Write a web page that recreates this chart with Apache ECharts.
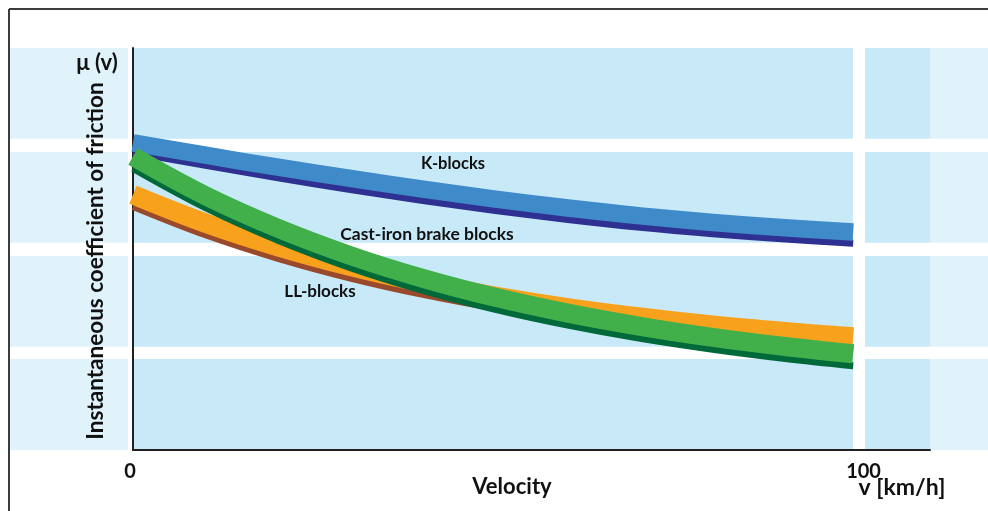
<!DOCTYPE html>
<html>
<head>
<meta charset="utf-8">
<script src="https://cdn.jsdelivr.net/npm/echarts@6/dist/echarts.min.js"></script>
<style>
  html, body { margin: 0; padding: 0; background: #ffffff; }
  #chart { width: 988px; height: 511px; }
</style>
</head>
<body>
<div id="chart"></div>
<script>
// ---- data ----
const velocity = [0, 10, 20, 30, 40, 50, 60, 70, 80, 90, 99.4];
const xTickLabels = [0, 100];

// K-blocks: light band and dark lower edge
const kBlocksBand = [0.3057, 0.2933, 0.2814, 0.2702, 0.2596, 0.2497, 0.2408, 0.2330, 0.2264, 0.2211, 0.2169];
const kBlocksEdge = [0.2960, 0.2833, 0.2709, 0.2592, 0.2483, 0.2383, 0.2294, 0.2216, 0.2152, 0.2099, 0.2058];

// Cast-iron brake blocks
const castIronBand = [0.2920, 0.2530, 0.2206, 0.1934, 0.1708, 0.1519, 0.1362, 0.1231, 0.1121, 0.1030, 0.0957];
const castIronEdge = [0.2801, 0.2411, 0.2087, 0.1815, 0.1589, 0.1400, 0.1243, 0.1111, 0.1002, 0.0910, 0.0838];

// LL-blocks
const llBlocksBand = [0.2540, 0.2258, 0.2024, 0.1828, 0.1665, 0.1529, 0.1415, 0.1321, 0.1241, 0.1176, 0.1124];
const llBlocksEdge = [0.2423, 0.2141, 0.1907, 0.1711, 0.1548, 0.1412, 0.1299, 0.1204, 0.1124, 0.1059, 0.1007];

const seriesLabels = ['K-blocks', 'Cast-iron brake blocks', 'LL-blocks'];

// ---- chart ----
const FONT = 'Lato, "Open Sans", sans-serif';
const pairs = (ys) => velocity.map((v, i) => [v, ys[i]]);

function lineSeries(name, ys, color, width) {
  return {
    type: 'line', name: name, data: pairs(ys), smooth: 0.35,
    symbol: 'none', silent: true,
    lineStyle: { color: color, width: width, cap: 'butt', join: 'round' }
  };
}

const tileYs = [[48, 138.7], [152, 242.7], [256, 346.7], [359, 450]];
const bgEls = [];
tileYs.forEach(([y0, y1]) => {
  bgEls.push({ type: 'rect', shape: { x: 10, y: y0, width: 118, height: y1 - y0 }, style: { fill: '#e0f2fa' }, z: -10 });
  bgEls.push({ type: 'rect', shape: { x: 133, y: y0, width: 720, height: y1 - y0 }, style: { fill: '#c7e9f8' }, z: -10 });
  bgEls.push({ type: 'rect', shape: { x: 865, y: y0, width: 65, height: y1 - y0 }, style: { fill: '#c7e9f8' }, z: -10 });
  bgEls.push({ type: 'rect', shape: { x: 930, y: y0, width: 58, height: y1 - y0 }, style: { fill: '#e0f2fa' }, z: -10 });
});
// frame
bgEls.push({ type: 'line', shape: { x1: 9, y1: 9, x2: 988, y2: 9 }, style: { stroke: '#3c3c3c', lineWidth: 2 } });
bgEls.push({ type: 'line', shape: { x1: 9, y1: 9, x2: 9, y2: 511 }, style: { stroke: '#3c3c3c', lineWidth: 2 } });

const txt = (s, x, y, size, extra) => Object.assign({
  type: 'text', x: x, y: y,
  style: { text: s, font: 'bold ' + size + 'px ' + FONT, fill: '#111', align: 'center', verticalAlign: 'middle' }
}, extra || {});

bgEls.push(txt('Instantaneous coefficient of friction', 96, 261, 22.5, { rotation: Math.PI / 2 }));
bgEls.push(txt('μ (v)', 97, 63, 22));
bgEls.push(txt('Velocity', 512, 487, 22));
bgEls.push(txt('v [km/h]', 902, 488, 23));
bgEls.push(txt(seriesLabels[0], 453, 164, 16.5));
bgEls.push(txt(seriesLabels[1], 427, 234, 17.5));
bgEls.push(txt(seriesLabels[2], 320, 292, 17));

const chart = echarts.init(document.getElementById('chart'), null, { renderer: 'canvas' });
chart.setOption({
  animation: false,
  backgroundColor: '#ffffff',
  graphic: { elements: bgEls },
  grid: { left: 133, right: 58, top: 48, bottom: 61 },
  xAxis: {
    type: 'value', min: 0, max: 110,
    axisLine: { show: true, onZero: false, lineStyle: { color: '#231f20', width: 2 } },
    axisTick: { show: false },
    splitLine: { show: false },
    axisLabel: {
      customValues: xTickLabels,
      margin: 12,
      formatter: (v) => v === 0 ? '{a|' + v + '}' : '{b|' + v + '}',
      rich: {
        a: { fontFamily: FONT, fontSize: 20, fontWeight: 'bold', color: '#111', padding: [0, 6, 0, 0] },
        b: { fontFamily: FONT, fontSize: 20, fontWeight: 'bold', color: '#111', padding: [0, 0, 0, 12] }
      }
    }
  },
  yAxis: {
    type: 'value', min: 0, max: 0.4,
    axisLine: { show: true, lineStyle: { color: '#231f20', width: 2 } },
    axisTick: { show: false },
    axisLabel: { show: false },
    splitLine: { show: false }
  },
  series: [
    lineSeries('K-blocks edge', kBlocksEdge, '#2e3192', 7),
    lineSeries('K-blocks', kBlocksBand, '#3f8bc9', 17.5),
    lineSeries('LL-blocks edge', llBlocksEdge, '#9a4a2c', 7),
    lineSeries('LL-blocks', llBlocksBand, '#f7a11d', 19.5),
    lineSeries('Cast-iron edge', castIronEdge, '#00693a', 7),
    lineSeries('Cast-iron brake blocks', castIronBand, '#41b04b', 19)
  ]
});
</script>
</body>
</html>
